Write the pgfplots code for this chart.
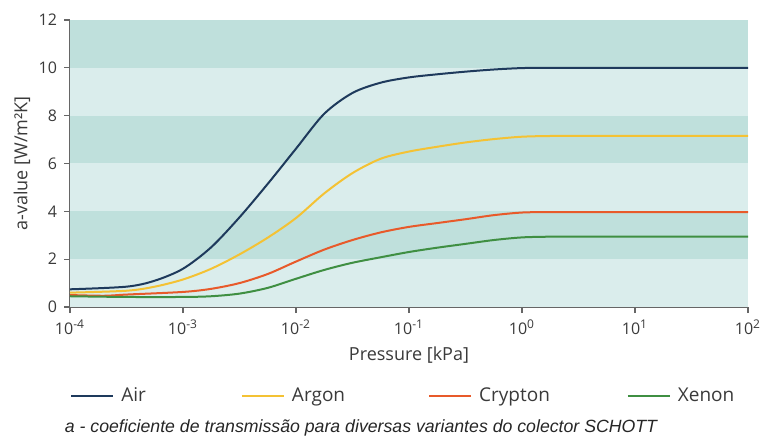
\documentclass[border=0pt]{standalone}
\usepackage{fontspec}
\setmainfont{Open Sans}
\newfontfamily\capfont{Liberation Sans}
\usepackage{pgfplots}
\pgfplotsset{compat=1.18}
\definecolor{bandD}{HTML}{BFE0DC}
\definecolor{bandL}{HTML}{DAEDEC}
\definecolor{cAir}{HTML}{1E3A5C}
\definecolor{cArgon}{HTML}{F4C234}
\definecolor{cCrypton}{HTML}{E85A2A}
\definecolor{cXenon}{HTML}{3F8F42}
\definecolor{axgray}{HTML}{666666}
\definecolor{txt}{HTML}{3A3A3A}
\begin{document}
\begin{tikzpicture}
\useasboundingbox (0,0) rectangle (381.5pt,219.5pt);
\begin{axis}[
  at={(35pt,66pt)}, anchor=south west,
  scale only axis, width=339pt, height=143.5pt,
  xmode=log, xmin=1e-4, xmax=1e2, ymin=0, ymax=12,
  xtick={1e-4,1e-3,1e-2,1e-1,1,10,100},
  xticklabels={10\textsuperscript{-4},10\textsuperscript{-3},10\textsuperscript{-2},10\textsuperscript{-1},10\textsuperscript{0},10\textsuperscript{1},10\textsuperscript{2}},
  xminorticks=false,
  ytick={0,2,...,12},
  axis lines*=left,
  axis line style={axgray, line width=0.6pt},
  tick style={axgray, line width=0.6pt},
  tick align=outside, major tick length=3pt,
  /pgf/number format/assume math mode=true,
  ticklabel style={font=\fontsize{8}{9}\selectfont, text=txt},
  xlabel={Pressure [kPa]}, ylabel={a-value [W/m²K]},
  label style={font=\fontsize{9}{10}\selectfont, text=txt},
  xlabel style={at={(axis description cs:0.5,-0.167)}, anchor=center},
  ylabel style={at={(axis description cs:-0.071,0.5)}, anchor=center},
  legend columns=4,
  legend style={at={(axis description cs:0,-0.31)}, anchor=west, draw=none, fill=none,
    font=\fontsize{9.5}{11}\selectfont, text=txt, inner sep=0pt,
    /tikz/column 1/.style={column sep=1.5pt},
    /tikz/column 2/.style={column sep=45.5pt},
    /tikz/column 3/.style={column sep=1.5pt},
    /tikz/column 4/.style={column sep=39.5pt},
    /tikz/column 5/.style={column sep=1.5pt},
    /tikz/column 6/.style={column sep=36.5pt},
    /tikz/column 7/.style={column sep=1.5pt}},
  legend image code/.code={\draw[#1] (0pt,0pt) -- (21pt,0pt);},
  every axis plot/.append style={line width=1pt},
]
\fill[bandL] (axis cs:1e-4,0) rectangle (axis cs:1e2,2);
\fill[bandD] (axis cs:1e-4,2) rectangle (axis cs:1e2,4);
\fill[bandL] (axis cs:1e-4,4) rectangle (axis cs:1e2,6);
\fill[bandD] (axis cs:1e-4,6) rectangle (axis cs:1e2,8);
\fill[bandL] (axis cs:1e-4,8) rectangle (axis cs:1e2,10);
\fill[bandD] (axis cs:1e-4,10) rectangle (axis cs:1e2,12);

\addplot[cAir, smooth] coordinates {
(1e-4,0.74) (3.162e-4,0.85) (5.623e-4,1.1) (1e-3,1.6) (1.778e-3,2.5)
(3.162e-3,3.75) (5.623e-3,5.15) (1e-2,6.62) (1.778e-2,8.08) (3.162e-2,8.95)
(5.623e-2,9.38) (0.1,9.6) (0.1778,9.73) (0.3162,9.84) (0.5623,9.93) (1,9.99) (1.778,10.0)
(3.162,10.0) (10,10.0) (31.62,10.0) (100,10.0)};
\addlegendentry{Air}
\addplot[cArgon, smooth] coordinates {
(1e-4,0.6) (3.162e-4,0.68) (5.623e-4,0.85) (1e-3,1.15) (1.778e-3,1.6)
(3.162e-3,2.2) (5.623e-3,2.9) (1e-2,3.72) (1.778e-2,4.75) (3.162e-2,5.6)
(5.623e-2,6.2) (0.1,6.5) (0.1778,6.7) (0.3162,6.88) (0.5623,7.02) (1,7.12) (1.778,7.15)
(3.162,7.15) (10,7.15) (31.62,7.15) (100,7.15)};
\addlegendentry{Argon}
\addplot[cCrypton, smooth] coordinates {
(1e-4,0.5) (2e-4,0.47) (3.162e-4,0.52) (1e-3,0.63) (1.778e-3,0.76)
(3.162e-3,1.0) (5.623e-3,1.38) (1e-2,1.9) (1.778e-2,2.4) (3.162e-2,2.8)
(5.623e-2,3.12) (0.1,3.35) (0.1778,3.51) (0.3162,3.67) (0.5623,3.84) (1,3.95) (1.778,3.97)
(3.162,3.97) (10,3.97) (31.62,3.97) (100,3.97)};
\addlegendentry{Crypton}
\addplot[cXenon, smooth] coordinates {
(1e-4,0.45) (3.162e-4,0.42) (1e-3,0.42) (1.778e-3,0.45)
(3.162e-3,0.56) (5.623e-3,0.8) (1e-2,1.18) (1.778e-2,1.55) (3.162e-2,1.85)
(5.623e-2,2.08) (0.1,2.3) (0.1778,2.48) (0.3162,2.64) (0.5623,2.8) (1,2.91) (1.778,2.94)
(3.162,2.94) (10,2.94) (31.62,2.94) (100,2.94)};
\addlegendentry{Xenon}
\end{axis}
\node[font=\capfont\itshape\fontsize{8.85}{10}\selectfont, text=black!85] at (180.5pt,5.5pt)
  {a - coeficiente de transmissão para diversas variantes do colector SCHOTT};
\end{tikzpicture}
\end{document}
